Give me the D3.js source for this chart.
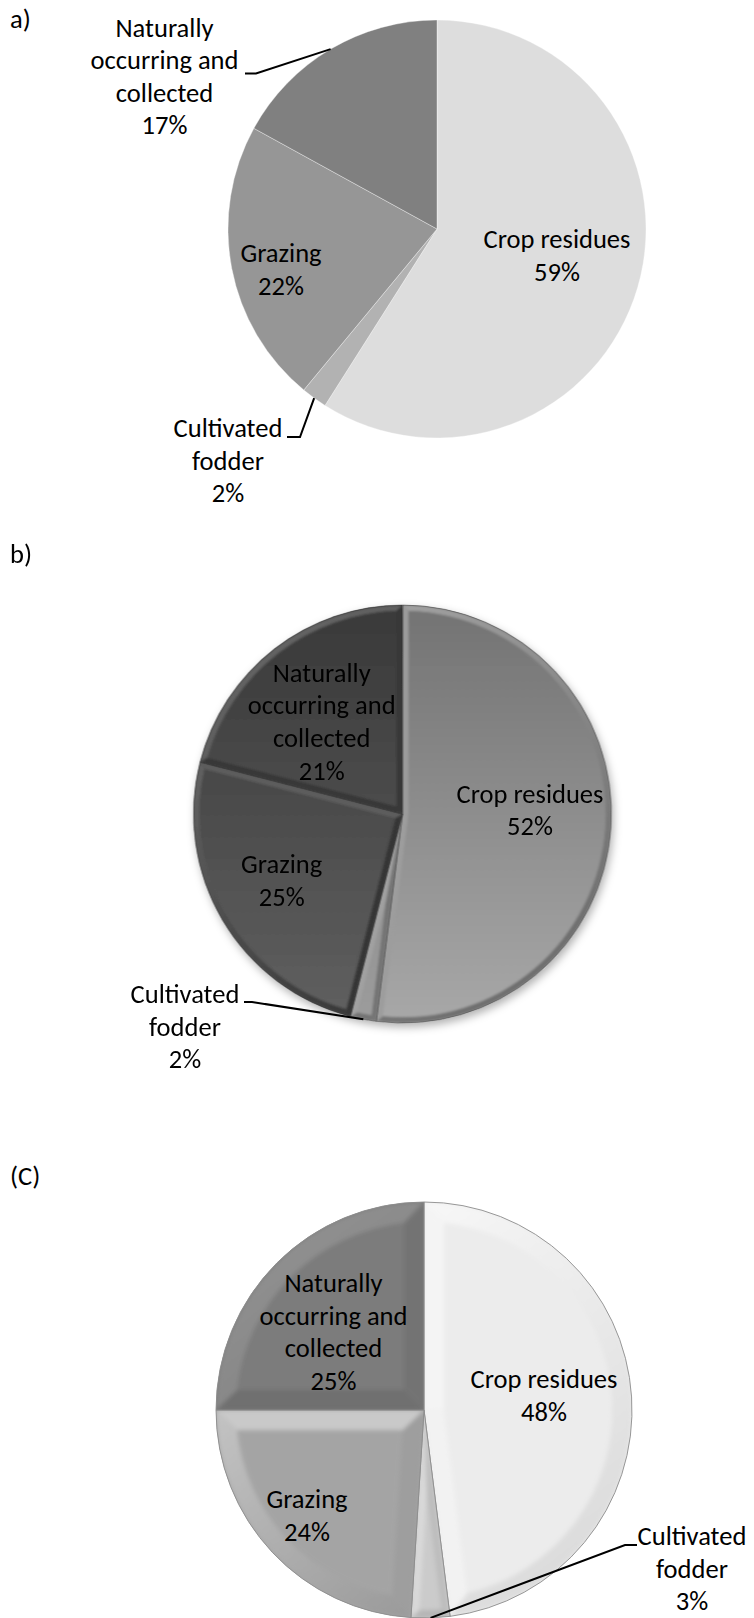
<!DOCTYPE html>
<html><head><meta charset="utf-8">
<script src="https://cdn.jsdelivr.net/npm/d3@7"></script>
<style>html,body{margin:0;padding:0;background:#fff;} svg{display:block;}</style>
</head><body>
<svg id="chart" width="754" height="1618"></svg>
<script>
// ---- data ----
const categories = ["Crop residues", "Cultivated fodder", "Grazing", "Naturally occurring and collected"];
const labelLines = [["Crop residues"], ["Cultivated", "fodder"], ["Grazing"], ["Naturally", "occurring and", "collected"]];
const valuesA = [59, 2, 22, 17];
const valuesB = [52, 2, 25, 21];
const valuesC = [48, 3, 24, 25];
const panelTitles = ["a)", "b)", "(C)"];

// ---- layout ----
const svg = d3.select("#chart");
const defs = svg.append("defs");
const FONT = "Carlito, Calibri, Lato, 'Noto Sans', sans-serif";
const probe = svg.append("text").attr("font-family", FONT).attr("font-size", 100).text(categories[0]);
const probeW = probe.node().getComputedTextLength();
probe.remove();
const fontSize = Math.max(20, Math.min(30, 100 * 147 / probeW));
const lineGap = 32.6;

const panels = [
  { values: valuesA, title: panelTitles[0], titlePos: [10, 28], cx: 437, cy: 229, r: 209, style: "flat",
    main: ["#dddddd", "#b2b2b2", "#969696", "#808080"],
    labels: [{x: 557, y: 248}, {x: 228, y: 437, elbow: [300, 437], end: [287, 437]},
             {x: 281, y: 262}, {x: 164.5, y: 36.5, elbow: [256, 73.5], end: [245, 73.5]}] },
  { values: valuesB, title: panelTitles[1], titlePos: [10, 563], cx: 402.5, cy: 814, r: 209, style: "round", w: 6, blur: 1.3,
    grad: [["#737373", "#a8a8a8"], ["#7c7c7c", "#9c9c9c"], ["#393939", "#606060"], ["#393939", "#606060"]],
    bevel: [["#6e6e6e", "#a6a6a6"], ["#6a6a6a", "#a8a8a8"], ["#2e2e2e", "#686868"], ["#2e2e2e", "#646464"]],
    labels: [{x: 530, y: 802.7}, {x: 185, y: 1003, elbow: [252, 1002], end: [244, 1002]},
             {x: 281.7, y: 873.3}, {x: 321.7, y: 681.7}] },
  { values: valuesC, title: panelTitles[2], titlePos: [10, 1185], cx: 424, cy: 1410, r: 208, style: "angle", w: 20, blur: 2,
    main: ["#ececec", "#cbcbcb", "#a4a4a4", "#7c7c7c"],
    bevel: [["#dcdcdc", "#fafafa"], ["#b0b0b0", "#e2e2e2"], ["#939393", "#cfcfcf"], ["#6c6c6c", "#8f8f8f"]],
    labels: [{x: 544, y: 1388}, {x: 692, y: 1545, elbow: [625, 1545], end: [637, 1545]},
             {x: 307, y: 1508}, {x: 333.5, y: 1292}] }
];

const L = [-0.6, -0.8]; // light direction (top-left)
function P(a, R) { return [R * Math.sin(a), -R * Math.cos(a)]; }
const f = p => p[0].toFixed(2) + "," + p[1].toFixed(2);
function slicePaths(a0, a1, r, w) {
  const th = a1 - a0;
  const we = Math.min(w, 0.45 * r / (1 / Math.sin(th / 2) + 1));
  const ri = r - we;
  const da = Math.asin(we / ri);
  const O0 = P(a0, r), O1 = P(a1, r);
  const I0 = P(a0 + da, ri), I1 = P(a1 - da, ri);
  const C = P((a0 + a1) / 2, we / Math.sin(th / 2));
  const big = th > Math.PI ? 1 : 0;
  const bigI = (th - 2 * da) > Math.PI ? 1 : 0;
  return {
    start: `M0,0L${f(O0)}L${f(I0)}L${f(C)}Z`,
    end: `M0,0L${f(O1)}L${f(I1)}L${f(C)}Z`,
    arc: `M${f(O0)}A${r},${r} 0 ${big} 1 ${f(O1)}L${f(I1)}A${ri},${ri} 0 ${bigI} 0 ${f(I0)}Z`,
    face: `M${f(C)}L${f(I0)}A${ri},${ri} 0 ${bigI} 1 ${f(I1)}Z`,
    nStart: [-Math.cos(a0), -Math.sin(a0)],
    nEnd: [Math.cos(a1), Math.sin(a1)]
  };
}
const shade = (pair, n) => d3.interpolateRgb(pair[0], pair[1])((n[0] * L[0] + n[1] * L[1] + 1) / 2);

// filters
const flt = defs.append("filter").attr("id", "shadow").attr("x", "-20%").attr("y", "-20%").attr("width", "140%").attr("height", "140%");
flt.append("feDropShadow").attr("dx", 2).attr("dy", 4).attr("stdDeviation", 4).attr("flood-color", "#000").attr("flood-opacity", 0.3);

const pie = d3.pie().sort(null).startAngle(0).endAngle(2 * Math.PI);

panels.forEach((pn, pi) => {
  const arcs = pie(pn.values);
  const arc = d3.arc().innerRadius(0).outerRadius(pn.r);
  const g = svg.append("g").attr("transform", `translate(${pn.cx},${pn.cy})`);
  if (pn.style === "round") g.attr("filter", "url(#shadow)");
  if (pn.blur) {
    defs.append("filter").attr("id", `soft${pi}`).attr("x", "-10%").attr("y", "-10%").attr("width", "120%").attr("height", "120%")
      .append("feGaussianBlur").attr("stdDeviation", pn.blur);
  }

  arcs.forEach((d, i) => {
    let baseFill;
    if (pn.style === "round") {
      const id = `vg${pi}_${i}`;
      const lg = defs.append("linearGradient").attr("id", id).attr("gradientUnits", "userSpaceOnUse")
        .attr("x1", 0).attr("y1", -pn.r).attr("x2", 0).attr("y2", pn.r);
      lg.append("stop").attr("offset", 0).attr("stop-color", pn.grad[i][0]);
      lg.append("stop").attr("offset", 1).attr("stop-color", pn.grad[i][1]);
      baseFill = `url(#${id})`;
    } else {
      baseFill = pn.main[i];
    }
    g.append("path").attr("d", arc(d)).attr("fill", baseFill)
      .attr("stroke", pn.style === "flat" ? "rgba(255,255,255,0.45)" : "none").attr("stroke-width", 0.8);

    if (pn.style !== "flat") {
      const sp = slicePaths(d.startAngle, d.endAngle, pn.r, pn.w);
      const gid = `bg${pi}_${i}`;
      const bg = defs.append("linearGradient").attr("id", gid).attr("gradientUnits", "userSpaceOnUse")
        .attr("x1", L[0] * pn.r).attr("y1", L[1] * pn.r).attr("x2", -L[0] * pn.r).attr("y2", -L[1] * pn.r);
      bg.append("stop").attr("offset", 0).attr("stop-color", pn.bevel[i][1]);
      bg.append("stop").attr("offset", 1).attr("stop-color", pn.bevel[i][0]);
      const cid = `clip${pi}_${i}`;
      defs.append("clipPath").attr("id", cid).append("path").attr("d", arc(d));
      const outer = g.append("g").attr("clip-path", `url(#${cid})`);
      const inner = outer.append("g").attr("filter", `url(#soft${pi})`);
      inner.append("path").attr("d", sp.arc).attr("fill", `url(#${gid})`);
      inner.append("path").attr("d", sp.start).attr("fill", shade(pn.bevel[i], sp.nStart));
      inner.append("path").attr("d", sp.end).attr("fill", shade(pn.bevel[i], sp.nEnd));
      inner.append("path").attr("d", sp.face).attr("fill", baseFill);
      g.append("path").attr("d", arc(d)).attr("fill", "none")
        .attr("stroke", pn.style === "round" ? "rgba(30,30,30,0.4)" : "#8c8c8c").attr("stroke-width", 0.9);
    }
  });

  // leader lines
  arcs.forEach((d, i) => {
    const lb = pn.labels[i];
    if (!lb.elbow) return;
    const mid = (d.startAngle + d.endAngle) / 2;
    const e = P(mid, pn.r);
    svg.append("polyline")
      .attr("points", [[pn.cx + e[0], pn.cy + e[1]], lb.elbow, lb.end].map(p => p.join(",")).join(" "))
      .attr("fill", "none").attr("stroke", "#000").attr("stroke-width", 2);
  });

  // labels
  arcs.forEach((d, i) => {
    const lb = pn.labels[i];
    const lines = labelLines[i].concat([d3.format(".0f")(d.data) + "%"]);
    const t = svg.append("text").attr("font-family", FONT).attr("font-size", fontSize)
      .attr("fill", "#000").attr("text-anchor", "middle");
    lines.forEach((ln, k) => {
      t.append("tspan").attr("x", lb.x).attr("y", lb.y + k * lineGap).text(ln);
    });
  });

  svg.append("text").attr("x", pn.titlePos[0]).attr("y", pn.titlePos[1])
    .attr("font-family", FONT).attr("font-size", fontSize).attr("fill", "#000").text(pn.title);
});
</script>
</body></html>
